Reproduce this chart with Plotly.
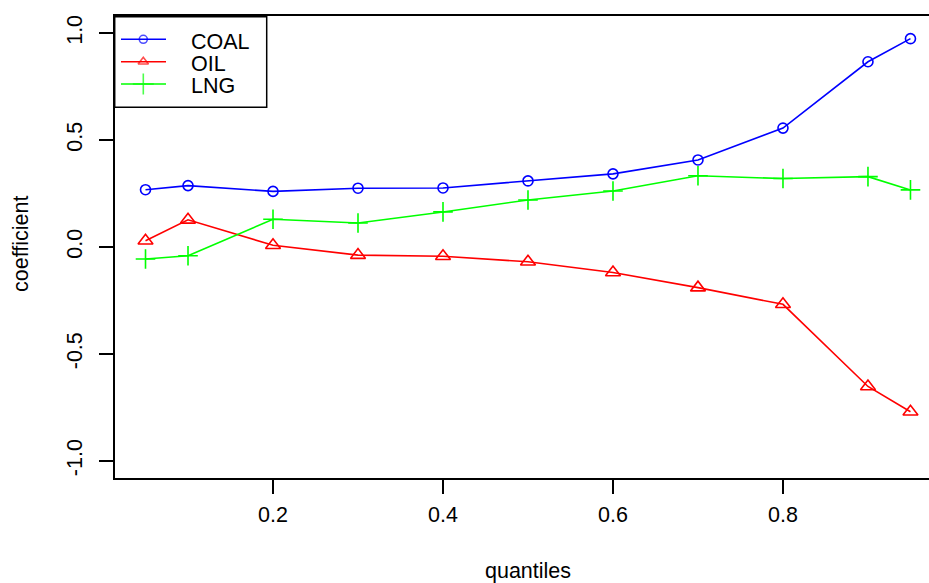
import plotly.graph_objects as go

# Quantile regression coefficients by fuel
quantiles = [0.05, 0.1, 0.2, 0.3, 0.4, 0.5, 0.6, 0.7, 0.8, 0.9, 0.95]
coal = [0.268, 0.287, 0.260, 0.275, 0.276, 0.309, 0.342, 0.407, 0.556, 0.866, 0.974]
oil = [0.029, 0.127, 0.008, -0.038, -0.043, -0.069, -0.119, -0.190, -0.268, -0.652, -0.770]
lng = [-0.056, -0.041, 0.130, 0.112, 0.164, 0.220, 0.262, 0.333, 0.320, 0.329, 0.267]

series_names = ["COAL", "OIL", "LNG"]
x_ticks = [0.2, 0.4, 0.6, 0.8]
x_ticktext = ["0.2", "0.4", "0.6", "0.8"]
y_ticks = [-1.0, -0.5, 0.0, 0.5, 1.0]
y_ticktext = ["-1.0", "-0.5", "0.0", "0.5", "1.0"]

W, H = 929, 583
FONT = "Liberation Sans, Arial, sans-serif"
FS = 21.5
INK = "#000000"

styles = [
    dict(color="#0000FF", symbol="circle-open", size=10, lsize=8),
    dict(color="#FF0000", symbol="triangle-up-open", size=13, lsize=9),
    dict(color="#00FF00", symbol="cross-thin-open", size=14, lsize=15),
]

fig = go.Figure()

for name, vals, st in zip(series_names, [coal, oil, lng], styles):
    fig.add_trace(go.Scatter(
        x=quantiles, y=vals, name=name, mode="lines+markers",
        line=dict(color=st["color"], width=1.6),
        marker=dict(symbol=st["symbol"], size=st["size"], color=st["color"],
                    line=dict(color=st["color"], width=1.6)),
        xaxis="x", yaxis="y", showlegend=False, cliponaxis=False,
    ))

# Legend drawn in pixel space on a hidden full-page axis pair
leg_left, leg_right, leg_top, leg_bottom = 114.7, 266.7, 16.7, 107.3
row_y = [39.3, 61.8, 84.0]
sample_x0, sample_x1, marker_x, text_x = 121, 166, 143.3, 189

shapes = [dict(type="rect", xref="x2", yref="y2", x0=leg_left, x1=leg_right,
               y0=leg_top, y1=leg_bottom, line=dict(color=INK, width=1.5),
               fillcolor="rgba(0,0,0,0)", layer="below")]
annotations = []
for name, st, ry in zip(series_names, styles, row_y):
    shapes.append(dict(type="line", xref="x2", yref="y2", x0=sample_x0, x1=sample_x1,
                       y0=ry, y1=ry, line=dict(color=st["color"], width=1.6), layer="below"))
    annotations.append(dict(xref="x2", yref="y2", x=text_x, y=ry + 2.4, text=name,
                            showarrow=False, xanchor="left", yanchor="middle",
                            font=dict(family=FONT, size=FS, color=INK)))

fig.add_trace(go.Scatter(
    x=[marker_x] * 3, y=row_y, mode="markers",
    marker=dict(symbol=[s["symbol"] for s in styles], size=[s["lsize"] for s in styles],
                color=[s["color"] for s in styles],
                line=dict(color=[s["color"] for s in styles], width=1.6)),
    xaxis="x2", yaxis="y2", showlegend=False, hoverinfo="skip", cliponaxis=False,
))

# Axis titles
annotations.append(dict(xref="x2", yref="y2", x=528, y=571, text="quantiles",
                        showarrow=False, xanchor="center", yanchor="middle",
                        font=dict(family=FONT, size=FS, color=INK)))
annotations.append(dict(xref="x2", yref="y2", x=21, y=244, text="coefficient",
                        showarrow=False, xanchor="center", yanchor="middle", textangle=-90,
                        font=dict(family=FONT, size=FS, color=INK)))

axis_common = dict(showgrid=False, zeroline=False, ticks="outside", ticklen=14,
                   tickwidth=1.5, tickcolor=INK, showline=True, linecolor=INK,
                   linewidth=1.5, tickfont=dict(family=FONT, size=FS, color=INK))

fig.update_layout(
    width=W, height=H, autosize=False,
    margin=dict(l=0, r=0, t=0, b=0),
    paper_bgcolor="white", plot_bgcolor="rgba(0,0,0,0)",
    xaxis=dict(domain=[115 / W, 1.0], range=[0.0141, 0.9718], tickmode="array",
               tickvals=x_ticks, ticktext=x_ticktext, mirror=True, anchor="y",
               ticklabelstandoff=2, **axis_common),
    yaxis=dict(domain=[105 / H, 567 / H], range=[-1.08, 1.08], tickmode="array",
               tickvals=y_ticks, ticktext=y_ticktext, tickangle=-90, anchor="x",
               ticklabelstandoff=9, **axis_common),
    xaxis2=dict(domain=[0, 1], range=[0, W], visible=False, anchor="y2", fixedrange=True),
    yaxis2=dict(domain=[0, 1], range=[H, 0], visible=False, anchor="x2", fixedrange=True),
    shapes=shapes,
    annotations=annotations,
    showlegend=False,
)

fig.write_html("out.html")
